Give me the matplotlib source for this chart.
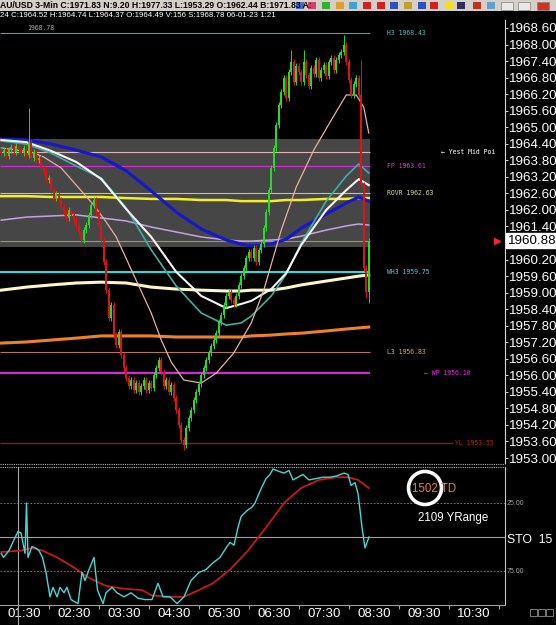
import numpy as np
import matplotlib
matplotlib.use("Agg")
import matplotlib.pyplot as plt
import matplotlib.transforms as mtransforms
from matplotlib.patches import Rectangle, Circle

W, H, DPI = 556, 625, 100

# ---- 3-min closes, 01:03 .. 08:27 ----
closes = [
    1964.06, 1964.17, 1963.96, 1964.17, 1964.28, 1964.10, 1964.32, 1964.17, 1964.06, 1964.25,
    1963.99, 1964.46, 1963.88, 1964.10, 1963.81, 1963.88, 1963.52, 1963.38, 1963.09, 1963.16,
    1962.72, 1962.43, 1962.58, 1962.36, 1962.11, 1961.92, 1961.71, 1962.00, 1961.82, 1961.63,
    1961.42, 1961.20, 1960.91, 1961.27, 1961.45, 1961.82, 1962.18, 1962.36, 1961.92, 1961.45,
    1960.91, 1960.11, 1959.09, 1958.08, 1958.55, 1957.46, 1957.10, 1957.57, 1956.74, 1956.26,
    1955.90, 1955.61, 1955.83, 1955.47, 1955.72, 1955.39, 1955.61, 1955.83, 1955.47, 1955.72,
    1955.54, 1956.01, 1956.26, 1956.55, 1956.12, 1955.61, 1955.83, 1955.39, 1955.65, 1955.18,
    1954.74, 1954.20, 1953.65, 1953.47, 1954.09, 1954.45, 1954.74, 1955.10, 1955.39, 1955.68,
    1956.01, 1956.26, 1956.55, 1956.81, 1957.06, 1957.28, 1957.53, 1957.93, 1958.19, 1958.55,
    1958.88, 1959.02, 1958.73, 1958.59, 1958.88, 1959.28, 1959.60, 1959.89, 1960.25, 1960.47,
    1960.25, 1960.62, 1960.11, 1960.55, 1960.76, 1961.34, 1961.92, 1962.72, 1963.52, 1964.25,
    1965.08, 1965.81, 1966.28, 1966.79, 1966.06, 1967.00, 1967.37, 1966.64, 1967.22, 1967.00,
    1966.64, 1967.37, 1966.89, 1966.50, 1967.15, 1966.93, 1967.44, 1966.79, 1967.08, 1967.26,
    1966.86, 1967.37, 1967.51, 1967.08, 1967.44, 1967.62, 1967.73, 1967.98, 1967.37, 1966.71,
    1966.17, 1966.57, 1966.79, 1966.17, 1962.90, 1959.89, 1959.02, 1960.88,
]
first_open = 1964.15
wick = 0.10
high_bars = [11, 116, 121, 137, 144]
high_vals = [1965.70, 1967.80, 1967.80, 1968.35, 1967.44]
low_bars = [73, 146, 147]
low_vals = [1953.29, 1958.80, 1958.62]

# ---- moving averages ----
ma_bars = [0, 10, 20, 30, 40, 50, 60, 70, 80, 90, 96, 100, 108, 114, 120, 130, 138, 143, 147]
ma_blue = [1964.57, 1964.54, 1964.39, 1964.17, 1963.92, 1963.42, 1962.69, 1961.92, 1961.31, 1960.91,
           1960.76, 1960.69, 1960.76, 1960.94, 1961.34, 1961.85, 1962.25, 1962.47, 1962.32]
ma_teal = [1964.50, 1964.39, 1964.06, 1963.59, 1963.16, 1962.07, 1960.55, 1959.24, 1958.26, 1957.82,
           1957.90, 1958.15, 1958.88, 1959.67, 1960.80, 1962.32, 1963.23, 1963.67, 1963.34]
ma_white = [1964.54, 1964.46, 1964.14, 1963.74, 1963.12, 1962.03, 1961.02, 1959.75, 1958.88, 1958.44,
            1958.59, 1958.70, 1959.13, 1959.71, 1960.73, 1962.00, 1962.72, 1963.12, 1962.90]
ma_lavender = [1961.63, 1961.74, 1961.78, 1961.82, 1961.71, 1961.60, 1961.38, 1961.20, 1961.02, 1960.91,
               1960.87, 1960.87, 1960.91, 1960.94, 1961.05, 1961.27, 1961.42, 1961.49, 1961.45]
ma_cream = [1959.09, 1959.20, 1959.28, 1959.35, 1959.38, 1959.35, 1959.20, 1959.13, 1959.09, 1959.06,
            1959.06, 1959.09, 1959.09, 1959.17, 1959.28, 1959.42, 1959.53, 1959.60, 1959.64]
ma_yellow = [1962.50, 1962.50, 1962.47, 1962.47, 1962.47, 1962.43, 1962.40, 1962.40, 1962.36, 1962.36,
             1962.32, 1962.32, 1962.32, 1962.36, 1962.36, 1962.40, 1962.40, 1962.43, 1962.43]
ma_orange = [1957.17, 1957.21, 1957.28, 1957.35, 1957.43, 1957.43, 1957.43, 1957.39, 1957.39, 1957.39,
             1957.39, 1957.43, 1957.46, 1957.50, 1957.53, 1957.61, 1957.68, 1957.72, 1957.75]
pink_bars = [0, 12, 17, 24, 30, 37, 42, 46, 53, 60, 64, 68, 73, 80, 86, 93, 100, 105, 112, 118,
             125, 132, 138, 142, 145, 147]
ma_pink = [1964.25, 1964.10, 1963.92, 1963.52, 1962.90, 1962.18, 1961.56, 1961.02, 1959.64, 1958.26,
           1957.28, 1956.48, 1955.83, 1955.72, 1956.08, 1956.81, 1957.90, 1959.09, 1961.27, 1962.83,
           1964.17, 1965.26, 1966.17, 1966.17, 1965.73, 1964.79]

# ---- pivot levels ----
zone_lo, zone_hi = 1960.66, 1964.56
yest_mid = 1964.10
zone_floor = 1960.88
level_names = ["H3", "FP", "ROVR", "WH3", "L3", "WP", "YL"]
level_vals = [1968.43, 1963.61, 1962.63, 1959.75, 1956.83, 1956.10, 1953.55]
level_colors = ["#3aa8a8", "#d030d0", "#c8c870", "#30d8e0", "#b07858", "#e020e0", "#8a1a1a"]
level_widths = [0.8, 0.8, 0.8, 1.5, 0.8, 1.5, 1.0]

# ---- stochastic ----
sto_bars = [0, 0.9, 3.1, 5.1, 6.7, 7.9, 9.5, 10.1, 10.7, 12.3, 13.7, 15.1, 16.5, 17.9, 19.5, 20.7,
            22.3, 23.5, 25.1, 26.3, 27.9, 30.7, 32.3, 33.5, 35.1, 37.1, 38.5, 40.7, 41.9, 44.3, 46.3,
            49.1, 51.9, 54.7, 57.5, 60.3, 62.7, 64.7, 67.5, 70.3, 73.1, 75.9, 79.1, 81.9, 84.7, 87.5,
            90.3, 91.5, 93.1, 94.7, 95.9, 97.5, 98.7, 100.3, 101.5, 103.1, 104.3, 105.9, 107.5, 108.7,
            111.5, 113.1, 115.1, 116.7, 118.7, 120.7, 123.1, 125.9, 128.7, 131.5, 134.3, 137.1, 138.7,
            139.9, 141.5, 142.7, 143.5, 144.3, 145.5, 147.1]
sto_k = [62, 65, 60, 52, 46, 47, 62, 25, 65, 57, 58, 60, 65, 76, 94, 87, 94, 87, 91, 87,
         96, 99, 76, 82, 74, 65, 89, 99, 91, 87, 91, 94, 91, 95, 96, 96, 84, 94, 94, 99,
         94, 82, 76, 74, 69, 65, 57, 54, 56, 43, 35, 32, 30, 28, 25, 18, 13, 7, 4, 0,
         2, 3, 1, 8, 6, 4, 8, 7, 6, 6, 5, 3, 4, 12, 10, 18, 30, 43, 58, 50]
sig_bars = [0, 7.9, 12.3, 16.5, 22.3, 27.9, 35.1, 41.9, 49.1, 56.3, 60.3, 67.5, 73.1, 79.1, 84.7,
            91.5, 98.7, 105.9, 113.1, 119.9, 127.1, 134.3, 138.7, 142.7, 147.1]
sto_d = [61, 60, 58, 60, 65, 71, 80, 86, 88, 89, 93, 94, 94, 89, 84, 74, 60, 43, 25, 14, 8, 6, 6, 8, 14]

time_labels = ["01:30", "02:30", "03:30", "04:30", "05:30", "06:30", "07:30", "08:30", "09:30", "10:30"]
half_hour_bars = [9 + 20 * k for k in range(len(time_labels))]
hour_bars = [19 + 20 * k for k in range(len(time_labels))]

header1 = "AU/USD 3-Min C:1971.83 N:9.20 H:1977.33 L:1953.29 O:1962.44 B:1971.83 A:"
header2 = "24 C:1964.52 H:1964.74 L:1964.37 O:1964.49 V:156 S:1968.78 06-01-23 1:21"

AXFONT = "Liberation Sans"
MONO = "DejaVu Sans Mono"


def fig_rect(x0, y0, x1, y1):
    return [x0 / W, 1 - y1 / H, (x1 - x0) / W, (y1 - y0) / H]


fig = plt.figure(figsize=(W / DPI, H / DPI), dpi=DPI, facecolor="black")

# ================= price panel =================
ax = fig.add_axes(fig_rect(0, 20, 505, 463))
ax.set_facecolor("black")
ax.set_xlim(-0.5, 201.5)
ax.set_ylim(1952.82, 1968.89)
for s in ["left", "top", "bottom"]:
    ax.spines[s].set_visible(False)
ax.spines["right"].set_color("#d8d8d8")
ax.spines["right"].set_linewidth(0.8)
ax.yaxis.tick_right()
yt = np.round(np.arange(1953.0, 1968.61, 0.6), 2)
ax.set_yticks(yt)
# the tick label under the last-price box is hidden, as on the terminal
ax.set_yticklabels(["" if abs(v - closes[-1]) < 0.2 else f"{v:.2f}" for v in yt],
                   fontfamily=AXFONT)
ax.tick_params(axis="y", colors="#d8d8d8", labelcolor="white", labelsize=9.6,
               length=2, width=0.7, pad=0.8)
ax.set_xticks([])

n = len(closes)
last = n - 1
ax.add_patch(Rectangle((-0.5, zone_lo), last + 1, zone_hi - zone_lo,
                       facecolor="#464646", edgecolor="none", zorder=0))
ax.hlines(yest_mid, -0.5, last + 0.5, color="#d8b8b8", lw=0.8, zorder=1)
ax.hlines(zone_floor, -0.5, last + 0.5, color="#9c9c60", lw=0.8, zorder=1)
for name, v, c, w in zip(level_names, level_vals, level_colors, level_widths):
    x1 = 180.5 if name == "YL" else last + 0.5
    ax.hlines(v, -0.5, x1, color=c, lw=w, zorder=1)

ax.plot(ma_bars, ma_orange, color="#f08028", lw=2.2, zorder=2)
ax.plot(ma_bars, ma_cream, color="#fff6c8", lw=2.2, zorder=2)
ax.plot(ma_bars, ma_yellow, color="#f4f020", lw=1.8, zorder=2)
ax.plot(ma_bars, ma_lavender, color="#c4a4e0", lw=1.1, zorder=2)
ax.plot(ma_bars, ma_blue, color="#1818c8", lw=2.3, zorder=3)
ax.plot(ma_bars, ma_teal, color="#3cb0a4", lw=1.2, zorder=3)
ax.plot(ma_bars, ma_white, color="#f4f4f4", lw=1.5, zorder=3)
ax.plot(pink_bars, ma_pink, color="#e8b0a0", lw=0.9, zorder=3)

# candles
o = np.array([first_open] + closes[:-1])
c = np.array(closes)
hi = np.maximum(o, c) + wick
lo = np.minimum(o, c) - wick
for b, v in zip(high_bars, high_vals):
    hi[b] = v
for b, v in zip(low_bars, low_vals):
    lo[b] = v
x = np.arange(n)
cols = np.where(c >= o, "#22dd22", "#e01212")
ax.vlines(x, lo, hi, colors=cols, lw=0.7, zorder=5)
body = np.maximum(np.abs(c - o), 0.05)
ax.bar(x, body, bottom=np.minimum(o, c), width=0.8, color=cols, zorder=6)

# level labels
lab_x = 154.3
lab_kw = dict(fontsize=4.7, fontfamily=MONO, va="center", ha="left", zorder=7)
ax.text(lab_x, level_vals[0], f"H3 {level_vals[0]:.2f}", color="#40c0c0", **lab_kw)
ax.text(lab_x, level_vals[1], f"FP {level_vals[1]:.2f}", color="#d838d8", **lab_kw)
ax.text(lab_x, level_vals[2], f"ROVR {level_vals[2]:.2f}", color="#d8d880", **lab_kw)
ax.text(lab_x, level_vals[3], f"WH3 {level_vals[3]:.2f}", color="#40d0d8", **lab_kw)
ax.text(lab_x, level_vals[4], f"L3 {level_vals[4]:.2f}", color="#e0a070", **lab_kw)
ax.text(169.0, level_vals[5], f"\u2190 WP {level_vals[5]:.2f}", color="#e030e0", **lab_kw)
ax.text(181.5, level_vals[6], f"YL {level_vals[6]:.2f}", color="#c02020", **lab_kw)
ax.text(175.8, yest_mid, "\u2190 Yest Mid Poi", color="white", **lab_kw)
ax.text(10.5, 1968.60, "1968.78", color="#a8a8a8", **lab_kw)

blend = mtransforms.blended_transform_factory(ax.transAxes, ax.transData)
ax.text(1.006, closes[-1], f"{closes[-1]:.2f}", transform=blend, ha="left", va="center",
        color="black", fontsize=9.6, fontfamily=AXFONT, clip_on=False, zorder=10,
        bbox=dict(boxstyle="square,pad=0.12", fc="white", ec="white"))
ax.plot([0.985], [closes[-1]], marker=">", color="#ff2020", ms=5, transform=blend,
        clip_on=False, zorder=10)

# ================= stochastic panel =================
ax2 = fig.add_axes(fig_rect(0, 467, 505, 605))
ax2.set_facecolor("black")
ax2.set_xlim(-0.5, 201.5)
ax2.set_ylim(100, -1.5)
ax2.set_yticks([])
for s in ["left", "top"]:
    ax2.spines[s].set_visible(False)
ax2.spines["right"].set_color("#c8c8c8")
ax2.spines["bottom"].set_color("#a0a0a0")
ax2.axhline(25, color="#8a8a8a", lw=0.6, ls=(0, (2, 2)))
ax2.axhline(75, color="#8a8a8a", lw=0.6, ls=(0, (2, 2)))
ax2.axhline(50, color="#98a498", lw=0.8)
ax2.plot([6.7, 6.7], [-1.5, 115], color="#a8a8a8", lw=0.8, clip_on=False)
ax2.plot(sig_bars, sto_d, color="#c81818", lw=1.3, zorder=3)
ax2.plot(sto_bars, sto_k, color="#44d8d8", lw=1.0, zorder=4)

ax2.set_xticks(hour_bars)
ax2.set_xticklabels([])
ax2.tick_params(axis="x", which="major", length=3, color="#a0a0a0")
ax2.set_xticks(half_hour_bars, minor=True)
ax2.set_xticklabels(time_labels, minor=True, fontfamily=AXFONT)
ax2.tick_params(axis="x", which="minor", length=0, pad=2.5, labelsize=9.6, labelcolor="white")

blend2 = mtransforms.blended_transform_factory(ax2.transAxes, ax2.transData)
for v in (25, 75):
    ax2.text(1.004, v, f"{v:.2f}", transform=blend2, fontsize=5, color="#a0a0a0",
             va="center", ha="left", clip_on=False, fontfamily=AXFONT)
ax2.text(1.004, 52, "STO  15", transform=blend2, fontsize=8.8, color="white",
         va="center", ha="left", clip_on=False, fontfamily=AXFONT)

# ================= overlay (header, notes) =================
ov = fig.add_axes([0, 0, 1, 1], zorder=20)
ov.set_xlim(0, W)
ov.set_ylim(H, 0)
ov.axis("off")
ov.patch.set_alpha(0)

ov.add_patch(Rectangle((0, 0), W, 11, facecolor="#d4d0c8", edgecolor="none"))
ov.add_patch(Rectangle((0, 11), W, 9, facecolor="black", edgecolor="none"))
ov.text(0, 5.8, header1, fontsize=6.2, fontweight="bold", color="black", va="center",
        ha="left", fontfamily=AXFONT)
ov.text(0, 15.8, header2, fontsize=5.7, color="white", va="center", ha="left", fontfamily=AXFONT)

icon_x = [300, 312, 326, 340, 353, 367, 381, 394, 408, 422, 434, 449, 461, 477, 491]
icon_c = ["#3a6fd8", "#d04070", "#30b030", "#e0a030", "#40a0d0", "#d02020", "#d02020",
          "#3050c0", "#c0a030", "#3050c0", "#d02020", "#f0e020", "#303060", "#c03020", "#60a0d0"]
for ix, ic in zip(icon_x, icon_c):
    ov.add_patch(Rectangle((ix - 4, 2), 8, 7, facecolor=ic, edgecolor="none"))
for bx, bc in zip([507, 524], ["#e8e8e8", "#e8e8e8"]):
    ov.add_patch(Rectangle((bx - 6, 1.5), 12, 8, facecolor=bc, edgecolor="#808080", lw=0.5))
ov.add_patch(Rectangle((537, 1.5), 12, 8, facecolor="#d83020", edgecolor="#808080", lw=0.5))

for yy in (464.2, 466.8):
    ov.plot([0, 505], [yy, yy], color="#b0b0b0", lw=0.8, ls=(0, (1, 1)))

ov.add_patch(Circle((425, 488), 16.5, fill=False, edgecolor="white", lw=2.6))
ov.text(412, 489, "1502 TD", color="#f08030", fontsize=8.3, va="center", ha="left",
        fontfamily=AXFONT)
ov.text(418, 518, "2109 YRange", color="white", fontsize=8.3, va="center", ha="left",
        fontfamily=AXFONT)

for bx in (533, 541, 549):
    ov.add_patch(Rectangle((bx - 3.5, 609), 7, 7, fill=False, edgecolor="#909090", lw=0.6))

fig.savefig("out.png", dpi=DPI, facecolor="black")
